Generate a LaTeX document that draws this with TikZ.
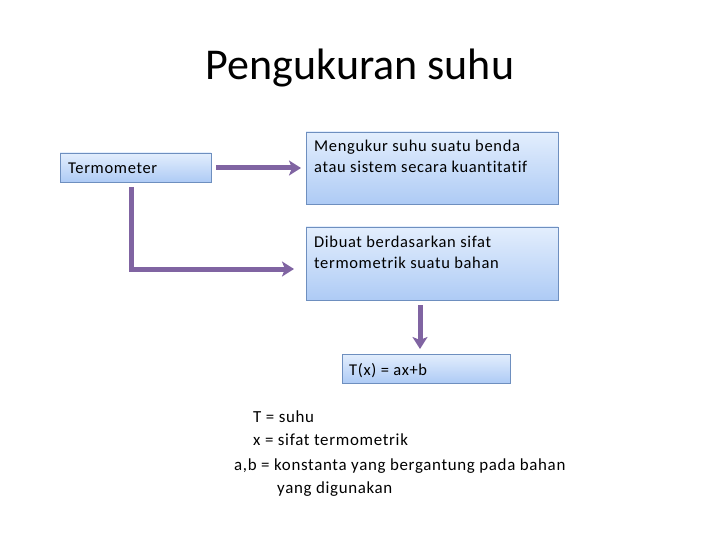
\documentclass[tikz,border=0pt]{standalone}
\usepackage{fontspec}
\setmainfont{Carlito}
\newfontfamily\boxfont{Carlito}[LetterSpace=4,Ligatures=NoCommon]
\usetikzlibrary{arrows.meta}
\definecolor{boxtop}{HTML}{E3EEFD}
\definecolor{boxbot}{HTML}{AECBF5}
\definecolor{boxline}{HTML}{6E8FBF}
\definecolor{arrowc}{HTML}{8064A2}
\tikzset{
  boxst/.style={draw=boxline, line width=0.8pt, top color=boxtop, bottom color=boxbot},
  txt/.style={font=\boxfont\fontsize{16.5}{21}\selectfont, anchor=north west, inner sep=0pt, align=left},
  leg/.style={font=\boxfont\fontsize{16.9}{23}\selectfont, anchor=north west, inner sep=0pt, align=left},
  conn/.style={draw=arrowc, line width=5pt, -{Stealth[length=12pt,width=15pt,inset=3pt]}}
}
\begin{document}
\begin{tikzpicture}[x=1pt,y=-1pt]
\useasboundingbox (0,0) rectangle (720,540);
\node[font=\fontsize{44}{50}\selectfont] (title) at (360,68) {Pengukuran suhu};
% boxes
\path[boxst] (60,153) rectangle (211,182);
\node (term) at (135.5,167.5) [minimum width=151pt, minimum height=29pt] {};
\node[txt] at (68,163) {Termometer};
\path[boxst] (306,132) rectangle (558,204);
\node (b1) at (432,168) [minimum width=252pt, minimum height=72pt] {};
\node[txt] at (314,140) {Mengukur suhu suatu benda\\atau sistem secara kuantitatif};
\path[boxst] (306,227) rectangle (558,300);
\node (b2) at (432,263.5) [minimum width=252pt, minimum height=73pt] {};
\node[txt] at (314,236) {Dibuat berdasarkan sifat\\termometrik suatu bahan};
\path[boxst] (342,354) rectangle (510,383);
\node (b3) at (426,368.5) [minimum width=168pt, minimum height=29pt] {};
\node[txt] at (349,363) {T(x) = ax+b};
% connectors
\coordinate (a1s) at (216,168);
\coordinate (a1e) at (301,168);
\draw[conn] (a1s) -- (a1e);
\coordinate (a2s) at (131,187);
\coordinate (a2c) at (131,269);
\coordinate (a2e) at (294,269);
\draw[conn] (a2s) -- (a2c) -- (a2e);
\coordinate (a3s) at (420,305);
\coordinate (a3e) at (420,349);
\draw[conn] (a3s) -- (a3e);
% legend
\node[leg] (l1) at (253,411) {T = suhu};
\node[leg] (l2) at (253,434) {x = sifat termometrik};
\node[leg] (l3) at (234,459) {a,b = konstanta yang bergantung pada bahan};
\node[leg] (l4) at (277,482) {yang digunakan};
\end{tikzpicture}
\end{document}
